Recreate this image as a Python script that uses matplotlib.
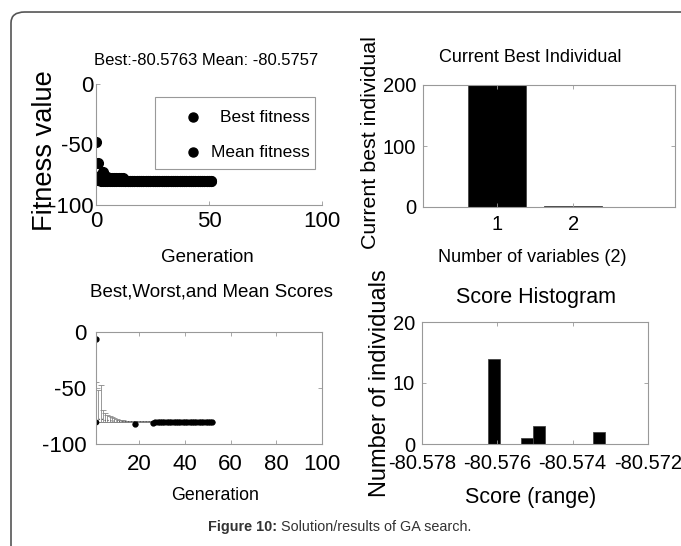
import numpy as np
import matplotlib
matplotlib.use('Agg')
import matplotlib.pyplot as plt
from matplotlib.patches import FancyBboxPatch, Rectangle

plt.rcParams['font.family'] = ['Liberation Sans', 'DejaVu Sans']

# fitness per generation (top left)
gen_fit = list(range(0, 52))
best_fit = [-79, -79.5, -80, -80.3] + [-80.5763] * 48
mean_fit = [-48, -65, -75, -73, -76, -77, -78, -78, -78, -78, -78, -78, -78] + [-80.5757] * 39
fit_names = ['Best fitness', 'Mean fitness']

# current best individual (top right)
var_idx = [1, 2]
var_val = [200, 1]

# best / worst / mean scores (bottom left)
gen_sc = list(range(1, 53))
best_sc = [-80.0, -80.2, -80.3, -80.4, -80.4, -80.5, -80.5, -80.5, -80.5, -80.5,
           -80.5, -80.5, -80.5, -80.5, -80.5, -80.5, -80.5, -82.0, -80.5, -80.5,
           -80.5, -80.5, -80.5, -80.5, -80.5, -81.5] + [-80.58] * 26
worst_sc = [-45, -52, -47, -70, -72, -74, -75, -76, -77, -78,
            -78.5, -79, -79, -79.5, -79.5, -79.5, -79.5, -79.5, -79.5, -79.5,
            -79.5, -79.5, -79.5, -79.5, -79.5, -80.5] + [-80.58] * 26
mean_sc = [-78, -78, -78, -78, -79, -79, -79, -79.5, -79.5, -79.5,
           -80, -80, -80, -80, -80, -80, -80, -80, -80, -80,
           -80, -80, -80, -80, -80, -81] + [-80.58] * 26
init_gen = [1]
init_sc = [-6]

# score histogram (bottom right)
hist_centers = [-80.5761, -80.5752, -80.5749, -80.5733]
hist_counts = [14, 1, 3, 2]

W, H = 681, 546
fig = plt.figure(figsize=(W / 100, H / 100), dpi=100)
rend = fig.canvas.get_renderer()


def box(l, t, r, b):
    return [l / W, 1 - b / H, (r - l) / W, (b - t) / H]


def ftext(x, y, s, **kw):
    return fig.text(x / W, 1 - y / H, s, ha='center', va='center', **kw)


def vlabel(x, y, s, length):
    # rotated label sized so that it spans the given length in pixels
    t = ftext(x, y, s, fontsize=14, rotation=90)
    h = t.get_window_extent(rend).height
    t.set_fontsize(14 * length / h)
    return t


# rounded frame around the figure
frame = FancyBboxPatch((11 / W, -0.1), 1.1, 0.978 + 0.1, boxstyle='round,pad=0,rounding_size=0.02',
                       transform=fig.transFigure, fill=False, ec='#555555', lw=1.2)
fig.patches.append(frame)

gray = '#999999'


def style(ax, xpad, ypad, size=14):
    for sp in ax.spines.values():
        sp.set_color(gray)
        sp.set_linewidth(0.8)
    ax.tick_params(direction='in', length=3, width=0.6, color=gray, labelsize=size)
    ax.tick_params(axis='x', pad=xpad, top=True)
    ax.tick_params(axis='y', pad=ypad, right=True)


# top left
ax1 = fig.add_axes(box(96, 84, 322, 205))
ax1.plot(gen_fit, best_fit, 'o', color='black', ms=7)
ax1.plot(gen_fit, mean_fit, 'o', color='black', ms=7)
ax1.set_xlim(0, 100)
ax1.set_ylim(-100, 0)
ax1.set_xticks([0, 50, 100])
ax1.set_yticks([-100, -50, 0])
ax1.set_yticklabels(['-100', '-50', '0'])
style(ax1, 4, 2, 16)
ax1.spines['top'].set_visible(False)
ax1.spines['right'].set_visible(False)
ax1.tick_params(top=False, right=False)

# legend box with right-aligned entries
ax1.add_patch(Rectangle((0.261, 0.298), 0.708, 0.595, transform=ax1.transAxes, fill=False,
                        ec=gray, lw=0.8, clip_on=False, zorder=5))
for yy, name in zip([0.727, 0.438], fit_names):
    ax1.plot([0.429], [yy], 'o', color='black', ms=6.5, transform=ax1.transAxes, clip_on=False)
    ax1.text(0.947, yy, name, transform=ax1.transAxes, ha='right', va='center', fontsize=12.5)

ftext(206, 60, 'Best:-80.5763 Mean: -80.5757', fontsize=12)
ftext(207, 257, 'Generation', fontsize=13.5)
vlabel(45, 151, 'Fitness value', 162)

# top right
ax2 = fig.add_axes(box(423, 85, 675, 207))
ax2.bar(var_idx, var_val, width=0.76, color='black', edgecolor='#444444', lw=0.6)
ax2.set_xlim(0.03, 3.33)
ax2.set_ylim(0, 200)
ax2.set_xticks([1, 2])
ax2.set_yticks([0, 100, 200])
style(ax2, 6, 5, 14.5)
ftext(530, 57, 'Current Best Individual', fontsize=13)
ftext(532, 257, 'Number of variables (2)', fontsize=13)
vlabel(371, 143, 'Current best individual', 215)

# bottom left
ax3 = fig.add_axes(box(96, 332, 322, 444))
yerr = [np.array(mean_sc) - np.array(best_sc), np.array(worst_sc) - np.array(mean_sc)]
ax3.errorbar(gen_sc, mean_sc, yerr=yerr, fmt='none', ecolor='#888888', elinewidth=0.6,
             capsize=2.5, capthick=0.6)
ax3.plot(gen_sc, mean_sc, ':', color='#555555', lw=0.8)
ax3.plot(gen_sc[25:], best_sc[25:], 'o', color='black', ms=3.5)
ax3.plot([gen_sc[17]], [best_sc[17]], 'o', color='black', ms=3.5)
ax3.plot(init_gen, init_sc, 'o', color='black', ms=3.5)
ax3.plot([gen_sc[0]], [best_sc[0]], 'o', color='black', ms=3)
ax3.set_xlim(1, 100)
ax3.set_ylim(-100, 0)
ax3.set_xticks([20, 40, 60, 80, 100])
ax3.set_yticks([-100, -50, 0])
ax3.set_yticklabels(['-100', '-50', '0'])
style(ax3, 7, 7, 16)
ftext(211, 292, 'Best,Worst,and Mean Scores', fontsize=13.5)
ftext(215, 495, 'Generation', fontsize=12.8)

# bottom right
ax4 = fig.add_axes(box(422, 322, 648, 444))
ax4.bar(hist_centers, hist_counts, width=0.00032, color='black', edgecolor='#444444', lw=0.6)
ax4.set_xlim(-80.578, -80.572)
ax4.set_ylim(0, 20)
ax4.set_xticks([-80.578, -80.576, -80.574, -80.572])
ax4.set_xticklabels(['-80.578', '-80.576', '-80.574', '-80.572'], fontsize=12)
ax4.set_yticks([0, 10, 20])
style(ax4, 7, 5, 14.5)
ftext(536, 297, 'Score Histogram', fontsize=15.5)
ftext(531, 497, 'Score (range)', fontsize=15.5)
vlabel(380, 383, 'Number of individuals', 229)

# caption: bold figure number followed by regular text
cap_b = fig.text(0, 1 - 527 / H, 'Figure 10:', ha='left', va='center', fontsize=10.4,
                 fontweight='bold', color='#333333')
cap_r = fig.text(0, 1 - 527 / H, ' Solution/results of GA search.', ha='left', va='center',
                 fontsize=10.4, color='#333333')
wb = cap_b.get_window_extent(rend).width
wr = cap_r.get_window_extent(rend).width
x0 = 340 - (wb + wr) / 2
cap_b.set_x(x0 / W)
cap_r.set_x((x0 + wb) / W)

fig.savefig('out.png', dpi=100)
